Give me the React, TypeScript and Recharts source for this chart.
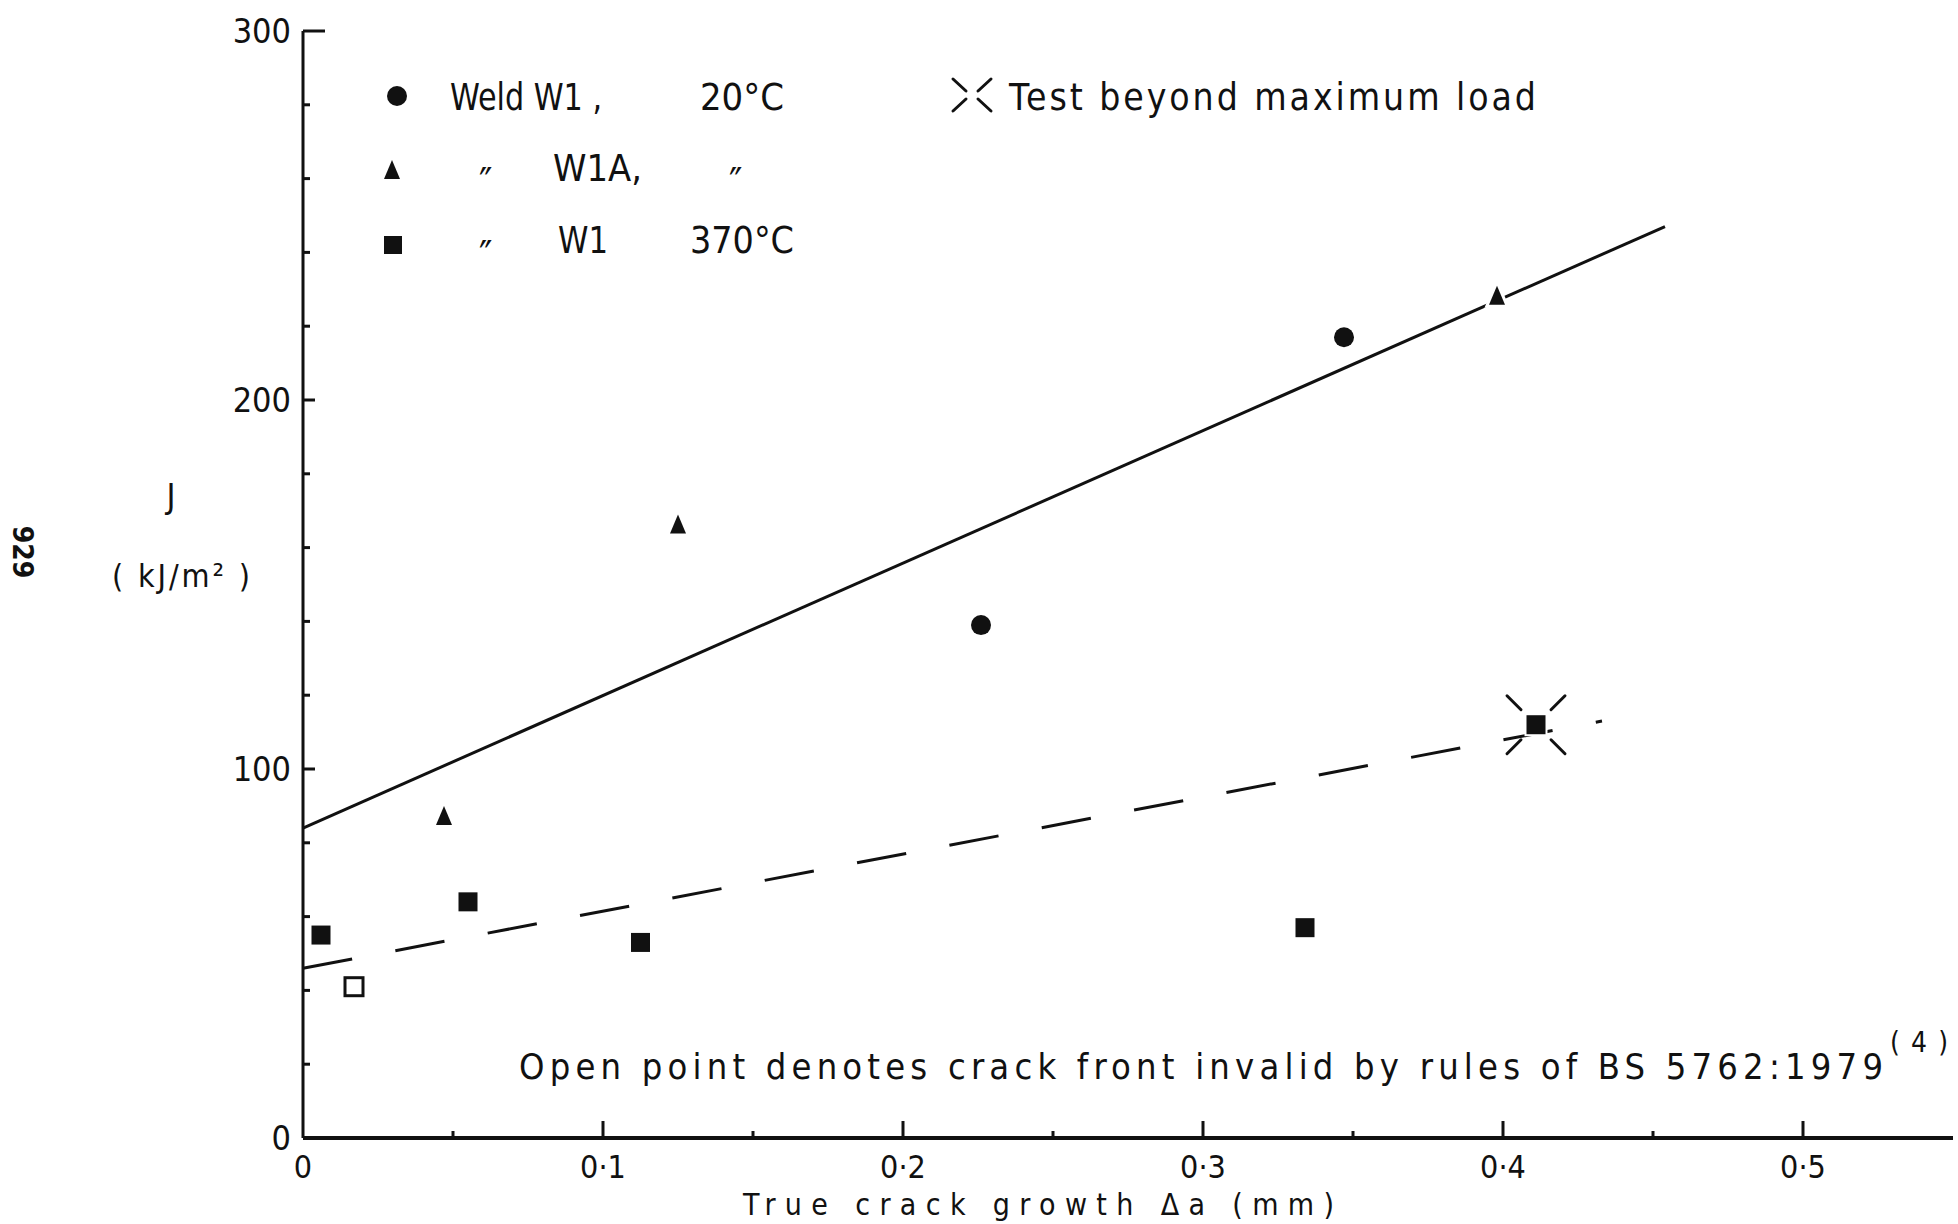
import React from "react";
import { ScatterChart, Scatter, XAxis, YAxis, ReferenceLine } from "recharts";

const W = 1958;
const H = 1224;
const FONT = "'DejaVu Sans', 'Liberation Sans', sans-serif";
const INK = "#111";

// axis ticks
const xTicks = [0, 0.05, 0.1, 0.15, 0.2, 0.25, 0.3, 0.35, 0.4, 0.45, 0.5];
const yTicks = [0, 20, 40, 60, 80, 100, 120, 140, 160, 180, 200, 220, 240, 260, 280, 300];

// Weld W1, 20 C
const weld20X = [0.226, 0.347];
const weld20J = [139, 217];

// Weld W1A, 20 C
const w1aX = [0.047, 0.125, 0.398];
const w1aJ = [87, 166, 228];

// Weld W1, 370 C (last point: test beyond maximum load)
const w370X = [0.006, 0.055, 0.1125, 0.334, 0.411];
const w370J = [55, 64, 53, 57, 112];
const w370Beyond = [false, false, false, false, true];

// open point (invalid crack front)
const openX = [0.017];
const openJ = [41];

// fitted lines
const solidLine = [{ x: 0, y: 84 }, { x: 0.454, y: 247 }];
const dashedLine = [{ x: 0, y: 46 }, { x: 0.433, y: 113 }];

const weld20 = weld20X.map((x, i) => ({ x, j: weld20J[i] }));
const w1a = w1aX.map((x, i) => ({ x, j: w1aJ[i] }));
const w370 = w370X.map((x, i) => ({ x, j: w370J[i], beyond: w370Beyond[i] }));
const openPts = openX.map((x, i) => ({ x, j: openJ[i] }));

const fmtX = (v: number) => (v === 0 ? "0" : v.toFixed(1).replace(".", "·"));

const txt = { fontFamily: FONT, fontStretch: "condensed" as const };

const XTick = (props: any) => {
  const { x, y, payload } = props;
  const v = payload.value;
  const major = Math.round(v * 100) % 10 === 0;
  return (
    <g>
      {v > 0 && (
        <line x1={x} x2={x} y1={y} y2={y - (major ? 17 : 7)} stroke={INK} strokeWidth={3} />
      )}
      {major && (
        <text x={x} y={y + 40} textAnchor="middle" fontSize={32} style={txt} fill={INK}>
          {fmtX(v)}
        </text>
      )}
    </g>
  );
};

const YTick = (props: any) => {
  const { x, y, payload } = props;
  const v = payload.value;
  const major = v % 100 === 0;
  const len = v === 300 ? 22 : major ? 12 : 7;
  return (
    <g>
      {v > 0 && <line x1={x} x2={x + len} y1={y} y2={y} stroke={INK} strokeWidth={3} />}
      {major && (
        <text x={x - 12} y={y + 12} textAnchor="end" fontSize={34} style={txt} fill={INK}>
          {v}
        </text>
      )}
    </g>
  );
};

const DotShape = (props: any) => <circle cx={props.cx} cy={props.cy} r={10} fill={INK} />;

const TriShape = (props: any) => {
  const { cx, cy } = props;
  return (
    <path
      d={`M${cx},${cy - 11} L${cx + 8},${cy + 8} L${cx - 8},${cy + 8} Z`}
      fill={INK}
      stroke="#fff"
      strokeWidth={6}
      paintOrder="stroke"
    />
  );
};

const Burst = ({ cx, cy, r1, r2 }: { cx: number; cy: number; r1: number; r2: number }) => (
  <g stroke={INK} strokeWidth={3} strokeLinecap="round">
    {[
      [-1, -1],
      [1, -1],
      [1, 1],
      [-1, 1],
    ].map(([sx, sy], i) => (
      <line key={i} x1={cx + sx * r1} y1={cy + sy * r1} x2={cx + sx * r2} y2={cy + sy * r2} />
    ))}
  </g>
);

const SquareShape = (props: any) => {
  const { cx, cy, payload } = props;
  return (
    <g>
      {payload && payload.beyond && <Burst cx={cx} cy={cy} r1={15} r2={29} />}
      <rect x={cx - 9.5} y={cy - 9.5} width={19} height={19} fill={INK} stroke="#fff" strokeWidth={4} paintOrder="stroke" />
    </g>
  );
};

const OpenSquareShape = (props: any) => {
  const { cx, cy } = props;
  return <rect x={cx - 9} y={cy - 9} width={18} height={18} fill="#fff" stroke={INK} strokeWidth={3} />;
};

const Overlay = () => (
  <svg
    width={W}
    height={H}
    style={{ position: "absolute", left: 0, top: 0, pointerEvents: "none", ...txt }}
    fill={INK}
  >
    {/* page number */}
    <text x={0} y={0} fontSize={28} fontWeight="bold" transform="translate(13,552) rotate(90)" textAnchor="middle">
      929
    </text>

    {/* y axis title */}
    <text x={171} y={508} fontSize={34} textAnchor="middle">J</text>
    <text x={112} y={587} fontSize={32} textLength={138} lengthAdjust="spacing">( kJ/m² )</text>

    {/* legend */}
    <circle cx={397} cy={96} r={10} fill={INK} />
    <text x={450} y={110} fontSize={37} textLength={152} lengthAdjust="spacingAndGlyphs">Weld W1 ,</text>
    <text x={700} y={110} fontSize={37} textLength={84} lengthAdjust="spacingAndGlyphs">20°C</text>

    <path d="M392,160 L400,179 L384,179 Z" fill={INK} />
    <text x={479} y={197} fontSize={40}>″</text>
    <text x={553} y={181} fontSize={37} textLength={89} lengthAdjust="spacingAndGlyphs">W1A,</text>
    <text x={729} y={197} fontSize={40}>″</text>

    <rect x={384} y={236} width={18} height={18} fill={INK} />
    <text x={479} y={270} fontSize={40}>″</text>
    <text x={558} y={253} fontSize={37} textLength={50} lengthAdjust="spacingAndGlyphs">W1</text>
    <text x={690} y={253} fontSize={37} textLength={104} lengthAdjust="spacingAndGlyphs">370°C</text>

    <g stroke={INK} strokeWidth={3} strokeLinecap="round">
      <line x1={953} y1={79} x2={966} y2={91} />
      <line x1={991} y1={79} x2={978} y2={91} />
      <line x1={953} y1={111} x2={966} y2={99} />
      <line x1={991} y1={111} x2={978} y2={99} />
    </g>
    <text x={1009} y={110} fontSize={37} textLength={527} lengthAdjust="spacing">Test beyond maximum load</text>

    {/* note */}
    <text x={519} y={1079} fontSize={36} textLength={1364} lengthAdjust="spacing">
      Open point denotes crack front invalid by rules of BS 5762:1979
    </text>
    <text x={1890} y={1052} fontSize={28} textLength={58} lengthAdjust="spacing">(4)</text>

    {/* x axis title */}
    <text x={743} y={1215} fontSize={30} textLength={591} lengthAdjust="spacing">
      True crack growth Δa (mm)
    </text>
  </svg>
);

export default function App() {
  return (
    <div style={{ position: "absolute", left: 0, top: 0, width: W, height: H, background: "#fff" }}>
      <ScatterChart width={W} height={H} margin={{ top: 31, right: 5, bottom: 0, left: 0 }}>
        <XAxis
          type="number"
          dataKey="x"
          domain={[0, 0.55]}
          ticks={xTicks}
          interval={0}
          allowDataOverflow
          height={86}
          tickSize={0}
          tickMargin={0}
          tickLine={false}
          axisLine={{ stroke: INK, strokeWidth: 4 }}
          tick={<XTick />}
        />
        <YAxis
          type="number"
          dataKey="j"
          domain={[0, 300]}
          ticks={yTicks}
          interval={0}
          allowDataOverflow
          width={303}
          tickSize={0}
          tickMargin={0}
          tickLine={false}
          axisLine={{ stroke: INK, strokeWidth: 3 }}
          tick={<YTick />}
        />
        <ReferenceLine segment={solidLine} stroke={INK} strokeWidth={3} ifOverflow="visible" />
        <ReferenceLine
          segment={dashedLine}
          stroke={INK}
          strokeWidth={3}
          strokeDasharray="50 44"
          ifOverflow="visible"
        />
        <Scatter data={weld20} shape={DotShape} isAnimationActive={false} />
        <Scatter data={w1a} shape={TriShape} isAnimationActive={false} />
        <Scatter data={w370} shape={SquareShape} isAnimationActive={false} />
        <Scatter data={openPts} shape={OpenSquareShape} isAnimationActive={false} />
      </ScatterChart>
      <Overlay />
    </div>
  );
}
